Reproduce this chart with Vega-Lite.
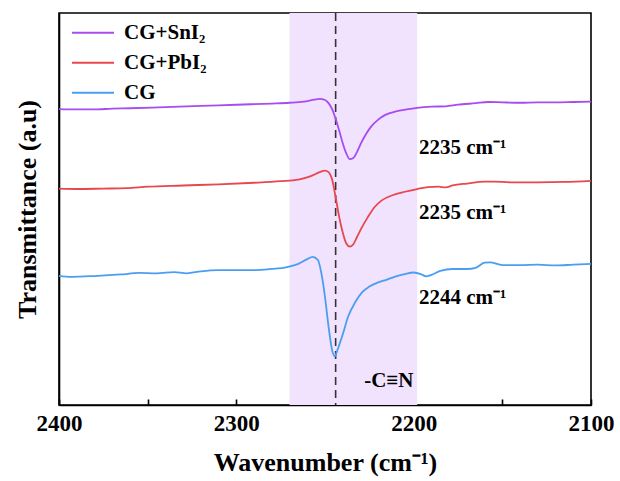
{
  "$schema": "https://vega.github.io/schema/vega-lite/v6.json",
  "autosize": {"type": "none"},
  "width": 532,
  "height": 392,
  "padding": {"left": 59, "top": 13, "right": 29, "bottom": 76},
  "background": "white",
  "config": {
    "font": "Times New Roman, Liberation Serif, serif",
    "view": {"stroke": "black", "strokeWidth": 1.6},
    "axis": {"labelFont": "Times New Roman, Liberation Serif, serif", "titleFont": "Times New Roman, Liberation Serif, serif", "labelFontWeight": "bold", "titleFontWeight": "bold", "labelColor": "black", "titleColor": "black", "domainColor": "black", "tickColor": "black", "grid": false}
  },
  "datasets": {
    "spectra": [
      {"w": 2400, "t": 0.755, "s": "CG+SnI₂"}, {"w": 2390, "t": 0.754, "s": "CG+SnI₂"}, {"w": 2380, "t": 0.754, "s": "CG+SnI₂"}, {"w": 2370, "t": 0.756, "s": "CG+SnI₂"}, {"w": 2360, "t": 0.757, "s": "CG+SnI₂"}, {"w": 2340, "t": 0.760, "s": "CG+SnI₂"}, {"w": 2320, "t": 0.763, "s": "CG+SnI₂"}, {"w": 2300, "t": 0.766, "s": "CG+SnI₂"}, {"w": 2280, "t": 0.769, "s": "CG+SnI₂"}, {"w": 2270, "t": 0.771, "s": "CG+SnI₂"}, {"w": 2262, "t": 0.774, "s": "CG+SnI₂"}, {"w": 2256, "t": 0.779, "s": "CG+SnI₂"}, {"w": 2253, "t": 0.781, "s": "CG+SnI₂"}, {"w": 2250, "t": 0.778, "s": "CG+SnI₂"}, {"w": 2248, "t": 0.770, "s": "CG+SnI₂"}, {"w": 2246, "t": 0.755, "s": "CG+SnI₂"}, {"w": 2244, "t": 0.730, "s": "CG+SnI₂"}, {"w": 2242, "t": 0.700, "s": "CG+SnI₂"}, {"w": 2240, "t": 0.668, "s": "CG+SnI₂"}, {"w": 2238, "t": 0.642, "s": "CG+SnI₂"}, {"w": 2236, "t": 0.627, "s": "CG+SnI₂"}, {"w": 2234, "t": 0.630, "s": "CG+SnI₂"}, {"w": 2232, "t": 0.645, "s": "CG+SnI₂"}, {"w": 2230, "t": 0.665, "s": "CG+SnI₂"}, {"w": 2227, "t": 0.690, "s": "CG+SnI₂"}, {"w": 2224, "t": 0.710, "s": "CG+SnI₂"}, {"w": 2220, "t": 0.728, "s": "CG+SnI₂"}, {"w": 2216, "t": 0.740, "s": "CG+SnI₂"}, {"w": 2210, "t": 0.749, "s": "CG+SnI₂"}, {"w": 2204, "t": 0.754, "s": "CG+SnI₂"}, {"w": 2198, "t": 0.758, "s": "CG+SnI₂"}, {"w": 2190, "t": 0.761, "s": "CG+SnI₂"}, {"w": 2182, "t": 0.762, "s": "CG+SnI₂"}, {"w": 2175, "t": 0.766, "s": "CG+SnI₂"}, {"w": 2165, "t": 0.770, "s": "CG+SnI₂"}, {"w": 2158, "t": 0.773, "s": "CG+SnI₂"}, {"w": 2150, "t": 0.772, "s": "CG+SnI₂"}, {"w": 2140, "t": 0.771, "s": "CG+SnI₂"}, {"w": 2130, "t": 0.772, "s": "CG+SnI₂"}, {"w": 2120, "t": 0.772, "s": "CG+SnI₂"}, {"w": 2110, "t": 0.773, "s": "CG+SnI₂"}, {"w": 2100, "t": 0.774, "s": "CG+SnI₂"},
      {"w": 2400, "t": 0.552, "s": "CG+PbI₂"}, {"w": 2390, "t": 0.551, "s": "CG+PbI₂"}, {"w": 2375, "t": 0.552, "s": "CG+PbI₂"}, {"w": 2362, "t": 0.553, "s": "CG+PbI₂"}, {"w": 2350, "t": 0.557, "s": "CG+PbI₂"}, {"w": 2330, "t": 0.560, "s": "CG+PbI₂"}, {"w": 2310, "t": 0.563, "s": "CG+PbI₂"}, {"w": 2290, "t": 0.567, "s": "CG+PbI₂"}, {"w": 2275, "t": 0.571, "s": "CG+PbI₂"}, {"w": 2265, "t": 0.575, "s": "CG+PbI₂"}, {"w": 2258, "t": 0.584, "s": "CG+PbI₂"}, {"w": 2253, "t": 0.594, "s": "CG+PbI₂"}, {"w": 2250, "t": 0.598, "s": "CG+PbI₂"}, {"w": 2248, "t": 0.594, "s": "CG+PbI₂"}, {"w": 2246, "t": 0.575, "s": "CG+PbI₂"}, {"w": 2244, "t": 0.530, "s": "CG+PbI₂"}, {"w": 2242, "t": 0.480, "s": "CG+PbI₂"}, {"w": 2240, "t": 0.440, "s": "CG+PbI₂"}, {"w": 2238, "t": 0.412, "s": "CG+PbI₂"}, {"w": 2236, "t": 0.404, "s": "CG+PbI₂"}, {"w": 2234, "t": 0.410, "s": "CG+PbI₂"}, {"w": 2232, "t": 0.428, "s": "CG+PbI₂"}, {"w": 2229, "t": 0.455, "s": "CG+PbI₂"}, {"w": 2226, "t": 0.478, "s": "CG+PbI₂"}, {"w": 2222, "t": 0.505, "s": "CG+PbI₂"}, {"w": 2218, "t": 0.522, "s": "CG+PbI₂"}, {"w": 2212, "t": 0.535, "s": "CG+PbI₂"}, {"w": 2205, "t": 0.544, "s": "CG+PbI₂"}, {"w": 2198, "t": 0.551, "s": "CG+PbI₂"}, {"w": 2192, "t": 0.556, "s": "CG+PbI₂"}, {"w": 2186, "t": 0.557, "s": "CG+PbI₂"}, {"w": 2182, "t": 0.555, "s": "CG+PbI₂"}, {"w": 2178, "t": 0.560, "s": "CG+PbI₂"}, {"w": 2170, "t": 0.565, "s": "CG+PbI₂"}, {"w": 2160, "t": 0.570, "s": "CG+PbI₂"}, {"w": 2155, "t": 0.570, "s": "CG+PbI₂"}, {"w": 2145, "t": 0.568, "s": "CG+PbI₂"}, {"w": 2130, "t": 0.568, "s": "CG+PbI₂"}, {"w": 2115, "t": 0.569, "s": "CG+PbI₂"}, {"w": 2100, "t": 0.572, "s": "CG+PbI₂"},
      {"w": 2400, "t": 0.329, "s": "CG"}, {"w": 2393, "t": 0.327, "s": "CG"}, {"w": 2380, "t": 0.329, "s": "CG"}, {"w": 2365, "t": 0.333, "s": "CG"}, {"w": 2355, "t": 0.337, "s": "CG"}, {"w": 2345, "t": 0.336, "s": "CG"}, {"w": 2335, "t": 0.339, "s": "CG"}, {"w": 2328, "t": 0.336, "s": "CG"}, {"w": 2320, "t": 0.341, "s": "CG"}, {"w": 2310, "t": 0.344, "s": "CG"}, {"w": 2300, "t": 0.344, "s": "CG"}, {"w": 2290, "t": 0.344, "s": "CG"}, {"w": 2280, "t": 0.347, "s": "CG"}, {"w": 2272, "t": 0.351, "s": "CG"}, {"w": 2265, "t": 0.360, "s": "CG"}, {"w": 2260, "t": 0.372, "s": "CG"}, {"w": 2257, "t": 0.378, "s": "CG"}, {"w": 2254, "t": 0.370, "s": "CG"}, {"w": 2252, "t": 0.335, "s": "CG"}, {"w": 2250, "t": 0.275, "s": "CG"}, {"w": 2248, "t": 0.200, "s": "CG"}, {"w": 2246, "t": 0.140, "s": "CG"}, {"w": 2244.5, "t": 0.124, "s": "CG"}, {"w": 2243, "t": 0.140, "s": "CG"}, {"w": 2240, "t": 0.180, "s": "CG"}, {"w": 2237, "t": 0.225, "s": "CG"}, {"w": 2233, "t": 0.262, "s": "CG"}, {"w": 2229, "t": 0.288, "s": "CG"}, {"w": 2225, "t": 0.302, "s": "CG"}, {"w": 2220, "t": 0.313, "s": "CG"}, {"w": 2215, "t": 0.320, "s": "CG"}, {"w": 2210, "t": 0.328, "s": "CG"}, {"w": 2205, "t": 0.334, "s": "CG"}, {"w": 2200, "t": 0.338, "s": "CG"}, {"w": 2196, "t": 0.334, "s": "CG"}, {"w": 2193, "t": 0.328, "s": "CG"}, {"w": 2190, "t": 0.332, "s": "CG"}, {"w": 2185, "t": 0.342, "s": "CG"}, {"w": 2178, "t": 0.347, "s": "CG"}, {"w": 2170, "t": 0.347, "s": "CG"}, {"w": 2165, "t": 0.350, "s": "CG"}, {"w": 2160, "t": 0.363, "s": "CG"}, {"w": 2157, "t": 0.364, "s": "CG"}, {"w": 2150, "t": 0.357, "s": "CG"}, {"w": 2140, "t": 0.357, "s": "CG"}, {"w": 2130, "t": 0.358, "s": "CG"}, {"w": 2120, "t": 0.356, "s": "CG"}, {"w": 2110, "t": 0.358, "s": "CG"}, {"w": 2100, "t": 0.360, "s": "CG"}
    ],
    "band": [{"w1": 2270, "w2": 2198}],
    "marker": [{"w": 2244}],
    "labels": [
      {"w": 2197, "t": 0.656, "text": "2235 cm⁻¹"},
      {"w": 2197, "t": 0.49, "text": "2235 cm⁻¹"},
      {"w": 2197, "t": 0.274, "text": "2244 cm⁻¹"}
    ],
    "group": [{"w": 2214, "t": 0.061, "text": "-C≡N"}]
  },
  "layer": [
    {
      "data": {"name": "band"},
      "mark": {"type": "rect", "color": "#f1e2fd"},
      "encoding": {
        "x": {"field": "w1", "type": "quantitative", "scale": {"domain": [2100, 2400], "reverse": true, "nice": false},
          "axis": {"values": [2400, 2350, 2300, 2250, 2200, 2150, 2100], "labelExpr": "datum.value % 100 === 0 ? datum.label : ''", "format": "d", "tickSize": -6, "tickWidth": 1.6, "domainWidth": 1.6, "labelFontSize": 23, "labelPadding": 13, "title": "Wavenumber (cm⁻¹)", "titleFontSize": 26, "titlePadding": 14, "labelFlush": false}},
        "x2": {"field": "w2"}
      }
    },
    {
      "data": {"name": "marker"},
      "mark": {"type": "rule", "color": "#333333", "strokeWidth": 1.6, "strokeDash": [8, 5]},
      "encoding": {"x": {"field": "w", "type": "quantitative"}}
    },
    {
      "data": {"name": "spectra"},
      "mark": {"type": "line", "strokeWidth": 1.8, "interpolate": "monotone"},
      "encoding": {
        "x": {"field": "w", "type": "quantitative"},
        "y": {"field": "t", "type": "quantitative", "scale": {"domain": [0, 1], "nice": false},
          "axis": {"ticks": false, "labels": false, "domainWidth": 1.6, "title": "Transmittance (a.u)", "titleFontSize": 26, "titlePadding": 19}},
        "color": {"field": "s", "type": "nominal",
          "scale": {"domain": ["CG+SnI₂", "CG+PbI₂", "CG"], "range": ["#a64cf0", "#e8474c", "#4a9ef0"]},
          "legend": {"title": null, "orient": "none", "legendX": 12, "legendY": 5, "padding": 0, "symbolType": "stroke", "symbolSize": 1764, "symbolStrokeWidth": 1.8, "clipHeight": 29.5, "rowPadding": 0, "labelOffset": 9, "labelFont": "Times New Roman, Liberation Serif, serif", "labelFontWeight": "bold", "labelFontSize": 21, "labelColor": "black"}},
        "order": {"field": "w", "type": "quantitative", "sort": "descending"}
      }
    },
    {
      "data": {"name": "labels"},
      "mark": {"type": "text", "align": "left", "baseline": "middle", "fontSize": 21, "fontWeight": "bold", "font": "Times New Roman, Liberation Serif, serif", "color": "black"},
      "encoding": {
        "x": {"field": "w", "type": "quantitative"},
        "y": {"field": "t", "type": "quantitative"},
        "text": {"field": "text"}
      }
    },
    {
      "data": {"name": "group"},
      "mark": {"type": "text", "align": "center", "baseline": "middle", "fontSize": 21, "fontWeight": "bold", "font": "Times New Roman, Liberation Serif, serif", "color": "black"},
      "encoding": {
        "x": {"field": "w", "type": "quantitative"},
        "y": {"field": "t", "type": "quantitative"},
        "text": {"field": "text"}
      }
    }
  ]
}
